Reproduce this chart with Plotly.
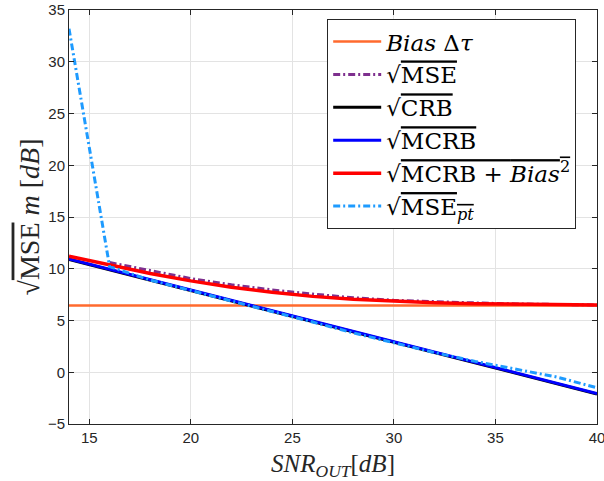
import plotly.graph_objects as go

snr = [14, 16, 18, 20, 22, 24, 26, 28, 30, 32, 34, 36, 38, 40]

bias = [6.45] * len(snr)
mse = [None, 10.6, 9.8, 9.05, 8.45, 7.95, 7.55, 7.2, 6.95, 6.8, 6.7, 6.6, 6.55, 6.5]
crb = [10.9, 9.9, 8.9, 7.9, 6.9, 5.9, 4.9, 3.9, 2.9, 1.9, 0.9, -0.1, -1.1, -2.1]
mcrb = [10.95, 9.95, 8.95, 7.95, 6.95, 5.95, 4.95, 3.95, 2.95, 1.95, 0.95, -0.05, -1.05, -2.05]
mcrb_bias = [11.2, 10.35, 9.55, 8.83, 8.22, 7.72, 7.33, 7.05, 6.84, 6.71, 6.62, 6.56, 6.52, 6.49]
mse_pt = [33.2, 10.2, 8.9, 7.9, 6.9, 5.85, 4.85, 3.8, 2.85, 1.9, 1.05, 0.3, -0.45, -1.5]

ov = '<span style="text-decoration:overline">'
names = [
    '<i>Bias</i> Δ<i>τ</i>',
    '√' + ov + 'MSE</span>',
    '√' + ov + 'CRB</span>',
    '√' + ov + 'MCRB</span>',
    '√' + ov + 'MCRB + <i>Bias</i><sup>2</sup></span>',
    '√' + ov + 'MSE<sub><i>pt</i></sub></span>',
]
dd = '7px,3px,2px,3px'
serif = 'Liberation Serif, DejaVu Serif'

fig = go.Figure()
fig.add_trace(go.Scatter(x=snr, y=bias, name=names[0], mode='lines', legendgroup='a',
                         line=dict(color='#FF6A2E', width=2.5)))
fig.add_trace(go.Scatter(x=snr, y=mse, name=names[1], mode='lines', legendgroup='b',
                         line=dict(color='#7E2F8E', width=3, dash=dd)))
fig.add_trace(go.Scatter(x=snr, y=crb, name=names[2], mode='lines', legendgroup='c',
                         line=dict(color='black', width=3)))
fig.add_trace(go.Scatter(x=snr, y=mcrb, name=names[3], mode='lines', legendgroup='d',
                         line=dict(color='#0000FF', width=3)))
fig.add_trace(go.Scatter(x=snr, y=mcrb_bias, name=names[4], mode='lines', legendgroup='e',
                         line=dict(color='#FF0000', width=3.5)))
fig.add_trace(go.Scatter(x=snr, y=mse_pt, name=names[5], mode='lines', legendgroup='f',
                         line=dict(color='#1E9BFF', width=3, dash=dd)))

fig.update_layout(
    width=604, height=481,
    margin=dict(l=69, r=7, t=10, b=57),
    plot_bgcolor='white', paper_bgcolor='white',
    font=dict(family='Liberation Sans, Arial', size=15, color='#262626'),
    showlegend=True,
    legend=dict(x=0.489, y=0.978, xanchor='left', yanchor='top',
                bgcolor='white', bordercolor='#262626', borderwidth=1,
                font=dict(family='DejaVu Serif', size=23, color='black'),
                traceorder='grouped', tracegroupgap=0, itemwidth=48),
)
fig.update_xaxes(range=[14, 40], tickvals=[15, 20, 25, 30, 35, 40],
                 showgrid=True, gridcolor='#e3e3e3', gridwidth=1, zeroline=False,
                 showline=True, linecolor='#262626', linewidth=1, mirror='ticks',
                 ticks='inside', ticklen=5, tickcolor='#262626',
                 ticklabeloverflow='allow', automargin=False,
                 title=dict(text='<i>SNR</i><sub><i>OUT</i></sub>[<i>dB</i>]',
                            font=dict(family=serif, size=25, color='#262626'),
                            standoff=10))
fig.update_yaxes(range=[-5, 35], tickvals=[-5, 0, 5, 10, 15, 20, 25, 30, 35],
                 showgrid=True, gridcolor='#e3e3e3', gridwidth=1, zeroline=False,
                 showline=True, linecolor='#262626', linewidth=1, mirror='ticks',
                 ticks='inside', ticklen=5, tickcolor='#262626',
                 automargin=False,
                 title=dict(text='√' + ov + 'MSE</span> <i>m</i> [<i>dB</i>]',
                            font=dict(family=serif, size=28, color='#262626'),
                            standoff=0))

# drop the default page margin so the figure fills the window
fig.write_html("out.html", config={'displayModeBar': False},
               post_script="document.body.style.margin='0';")
